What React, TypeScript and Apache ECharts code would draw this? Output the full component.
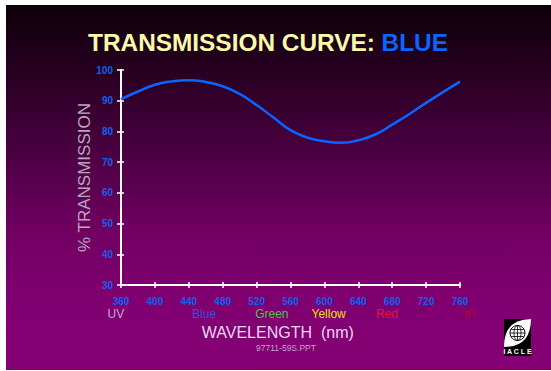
import React, { useEffect, useRef } from "react";
import * as echarts from "echarts";

const wavelengths = [360, 380, 400, 420, 440, 460, 480, 500, 520, 540, 560, 580, 600, 620, 640, 660, 680, 700, 720, 740, 760];
const transmission = [90.5, 93.0, 95.2, 96.3, 96.7, 96.1, 94.7, 92.2, 88.6, 84.5, 80.4, 78.0, 76.8, 76.3, 77.1, 79.0, 82.2, 85.6, 89.3, 92.8, 96.2];

const xRange = [360, 760, 40];
const yRange = [30, 100, 10];

const bandNames = ["UV", "Blue", "Green", "Yellow", "Red", "IR"];
const bandCenters = [354, 458, 538, 605, 674, 772];
const bandColors = ["#c8a8d8", "#3050e8", "#48c840", "#f0e000", "#e8103c", "#b00038"];

const FONT = "'Liberation Sans', Arial, sans-serif";

echarts.graphic.registerShape(
  "lens",
  echarts.graphic.extendPath("M0,27 Q0,0 27,0 Q27,27 0,27 Z", {}) as any
);

export default function App() {
  const ref = useRef<HTMLDivElement>(null);

  useEffect(() => {
    if (!ref.current) return;
    const chart = echarts.init(ref.current, undefined, { renderer: "svg" });
    const axisLabelStyle = { color: "#1060f0", fontSize: 10, fontWeight: "bold" as const, fontFamily: FONT };
    const titleRich = {
      fontSize: 24.4,
      fontWeight: "bold",
      fontFamily: FONT,
      lineHeight: 28,
      textShadowColor: "#000",
      textShadowOffsetX: 2,
      textShadowOffsetY: 2,
      textShadowBlur: 0,
    };
    chart.setOption({
      animation: false,
      title: {
        text: "{a|TRANSMISSION CURVE: }{b|BLUE}",
        left: 88,
        top: 28,
        padding: 0,
        textStyle: {
          rich: {
            a: { ...titleRich, color: "#fafaa8" },
            b: { ...titleRich, color: "#0a64ff" },
          },
        },
      },
      grid: { left: 121, right: 91, top: 70, bottom: 86, containLabel: false },
      xAxis: [
        {
          type: "value",
          position: "bottom",
          min: xRange[0],
          max: xRange[1],
          interval: xRange[2],
          axisLine: { show: true, lineStyle: { color: "#ffffff", width: 2 } },
          axisTick: { show: true, inside: false, length: 3, lineStyle: { color: "#ffffff", width: 1.5 } },
          axisLabel: { ...axisLabelStyle, margin: 11 },
          splitLine: { show: false },
        },
        {
          type: "value",
          position: "bottom",
          min: xRange[0],
          max: xRange[1],
          interval: xRange[2],
          axisLine: { show: false },
          axisTick: { show: true, inside: true, length: 3, lineStyle: { color: "#ffffff", width: 1.5 } },
          axisLabel: { show: false },
          splitLine: { show: false },
        },
      ],
      yAxis: [
        {
          type: "value",
          position: "left",
          min: yRange[0],
          max: yRange[1],
          interval: yRange[2],
          name: "% TRANSMISSION",
          nameLocation: "middle",
          nameGap: 28,
          nameMoveOverlap: false,
          nameTextStyle: { color: "#b8a8bc", fontSize: 17, fontFamily: FONT },
          axisLine: { show: true, lineStyle: { color: "#ffffff", width: 2 } },
          axisTick: { show: true, inside: false, length: 4, lineStyle: { color: "#ffffff", width: 1.5 } },
          axisLabel: { ...axisLabelStyle, margin: 8 },
          splitLine: { show: false },
        },
        {
          type: "value",
          position: "left",
          min: yRange[0],
          max: yRange[1],
          interval: yRange[2],
          axisLine: { show: false },
          axisTick: { show: true, inside: true, length: 3, lineStyle: { color: "#ffffff", width: 1.5 } },
          axisLabel: { show: false },
          splitLine: { show: false },
        },
      ],
      series: [
        {
          type: "line",
          xAxisIndex: 0,
          yAxisIndex: 0,
          smooth: true,
          showSymbol: false,
          symbol: "none",
          lineStyle: { color: "#0a64ff", width: 2.5 },
          data: wavelengths.map((w, i) => [w, transmission[i]]),
          z: 5,
        },
      ],
    });

    const bandLabels = bandNames.map((name, i) => {
      const px = chart.convertToPixel({ xAxisIndex: 0 }, bandCenters[i]) as number;
      return {
        type: "text",
        x: px,
        y: 314,
        style: {
          text: name,
          fill: bandColors[i],
          fontSize: 12,
          fontFamily: FONT,
          align: "center",
          verticalAlign: "middle",
        },
      };
    });
    const midX = chart.convertToPixel({ xAxisIndex: 0 }, 545) as number;

    chart.setOption({
      graphic: [
        ...bandLabels,
        {
          type: "text",
          x: midX,
          y: 332,
          style: {
            text: "WAVELENGTH  (nm)",
            fill: "#ecd8f0",
            fontSize: 16,
            fontFamily: FONT,
            align: "center",
            verticalAlign: "middle",
          },
        },
        {
          type: "text",
          x: 286,
          y: 348,
          style: {
            text: "97711-59S.PPT",
            fill: "#c8a0d0",
            fontSize: 8.5,
            fontFamily: FONT,
            align: "center",
            verticalAlign: "middle",
          },
        },
        {
          type: "group",
          x: 504,
          y: 319,
          children: [
            { type: "rect", shape: { x: 0, y: 0, width: 27, height: 28 }, style: { fill: "#000" } },
            { type: "lens", x: 0, y: 0, scaleX: 1, scaleY: 28 / 27, style: { fill: "#fff" } },
            { type: "circle", shape: { cx: 13.5, cy: 14, r: 7.5 }, style: { fill: "#fff", stroke: "#000", lineWidth: 1 } },
            { type: "ellipse", shape: { cx: 13.5, cy: 14, rx: 3.5, ry: 7.5 }, style: { fill: "none", stroke: "#000", lineWidth: 0.8 } },
            { type: "line", shape: { x1: 13.5, y1: 6.5, x2: 13.5, y2: 21.5 }, style: { stroke: "#000", lineWidth: 0.8 } },
            { type: "line", shape: { x1: 6, y1: 14, x2: 21, y2: 14 }, style: { stroke: "#000", lineWidth: 0.8 } },
            { type: "line", shape: { x1: 7.2, y1: 10.5, x2: 19.8, y2: 10.5 }, style: { stroke: "#000", lineWidth: 0.8 } },
            { type: "line", shape: { x1: 7.2, y1: 17.5, x2: 19.8, y2: 17.5 }, style: { stroke: "#000", lineWidth: 0.8 } },
            { type: "rect", shape: { x: 0, y: 28, width: 27, height: 9 }, style: { fill: "#000" } },
            {
              type: "text",
              x: 13.5,
              y: 32.5,
              style: {
                text: "I A C L E",
                fill: "#fff",
                fontSize: 7,
                fontWeight: "bold",
                fontFamily: FONT,
                align: "center",
                verticalAlign: "middle",
              },
            },
          ],
        },
      ],
    });

    return () => chart.dispose();
  }, []);

  return (
    <div style={{ position: "fixed", left: 0, top: 0, width: 551, height: 371, background: "#ffffff" }}>
      <div
        style={{
          position: "absolute",
          left: 6,
          top: 5,
          width: 545,
          height: 365,
          background:
            "linear-gradient(to bottom, #0c0008 0%, #3e0036 33%, #700062 62%, #800070 80%, #840074 100%)",
        }}
      />
      <div ref={ref} style={{ position: "absolute", left: 0, top: 0, width: 551, height: 371 }} />
    </div>
  );
}
